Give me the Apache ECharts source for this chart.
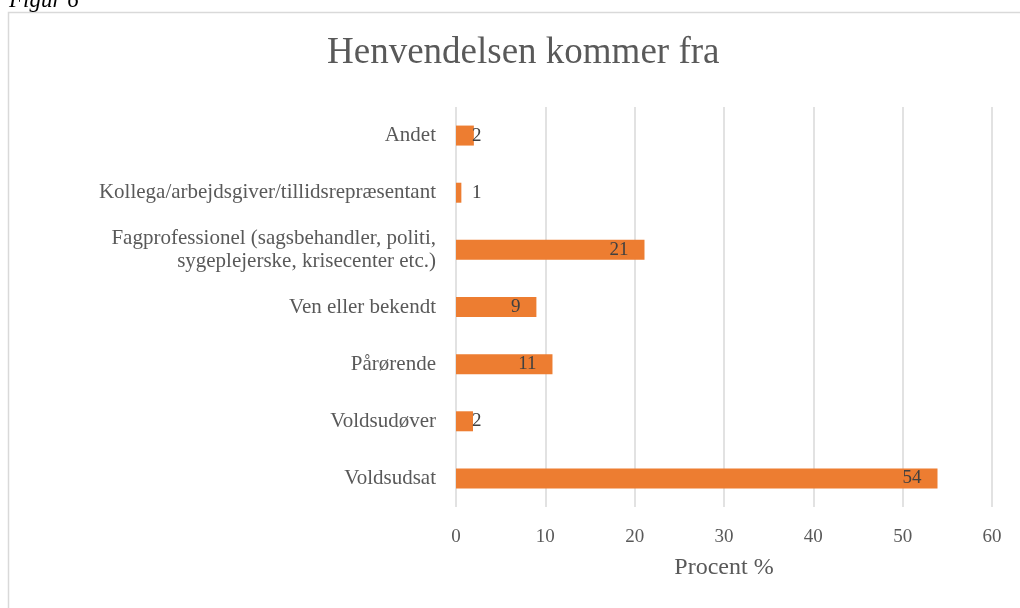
<!DOCTYPE html>
<html lang="da">
<head>
    <meta charset="utf-8">
    <title>Henvendelsen kommer fra</title>
    <script src="https://cdn.jsdelivr.net/npm/echarts@6/dist/echarts.min.js"></script>
    <style>
        html, body { margin: 0; padding: 0; background: #fff; }
        #chart { width: 1020px; height: 608px; }
    </style>
</head>
<body>
<div id="chart"></div>
<script>
    // kategorier (nederst -> øverst)
    const categories = [
        'Voldsudsat',
        'Voldsudøver',
        'Pårørende',
        'Ven eller bekendt',
        'Fagprofessionel (sagsbehandler, politi,\nsygeplejerske, krisecenter etc.)',
        'Kollega/arbejdsgiver/tillidsrepræsentant',
        'Andet'
    ];
    const values = [53.9, 1.9, 10.8, 9.0, 21.1, 0.6, 2.0];
    const xTicks = [0, 10, 20, 30, 40, 50, 60];

    const FONT = '"Liberation Serif", "DejaVu Serif", serif';
    const TXT = '#595959';

    const chart = echarts.init(document.getElementById('chart'));

    const option = {
        backgroundColor: '#fff',
        textStyle: { fontFamily: FONT },
        title: {
            text: 'Henvendelsen kommer fra',
            left: 322,
            top: 30,
            textStyle: { fontFamily: FONT, fontSize: 37, fontWeight: 'normal', color: TXT }
        },
        graphic: [
            {
                type: 'rect',
                shape: { x: 8.5, y: 12.5, width: 1030, height: 620 },
                style: { fill: null, stroke: '#d9d9d9', lineWidth: 1.5 }
            },
            {
                type: 'text',
                left: 9,
                top: -11,
                style: { text: 'Figur 6', font: 'italic 23px ' + FONT, fill: '#000' }
            }
        ],
        grid: { left: 456, right: 28, top: 107, bottom: 101 },
        xAxis: {
            type: 'value',
            min: xTicks[0],
            max: xTicks[xTicks.length - 1],
            interval: 10,
            name: 'Procent %',
            nameLocation: 'middle',
            nameGap: 49,
            nameTextStyle: { fontFamily: FONT, fontSize: 24, color: TXT },
            axisLine: { show: false },
            axisTick: { show: false },
            axisLabel: { fontFamily: FONT, fontSize: 19, color: TXT, margin: 21 },
            splitLine: { lineStyle: { color: '#d9d9d9', width: 1.5 } }
        },
        yAxis: {
            type: 'category',
            data: categories,
            axisLine: { show: false },
            axisTick: { show: false },
            axisLabel: { fontFamily: FONT, fontSize: 21, color: TXT, margin: 20, lineHeight: 23 }
        },
        series: [{
            type: 'bar',
            data: values.map(v => ({
                value: v,
                label: v < 5
                    ? { position: 'insideLeft', distance: 16 }
                    : { position: 'insideRight', distance: 16 }
            })),
            barWidth: 20,
            itemStyle: { color: '#ED7D31' },
            label: {
                show: true,
                fontFamily: FONT,
                fontSize: 19,
                color: '#404040',
                formatter: p => Math.round(p.value) || 1
            }
        }]
    };

    chart.setOption(option);
</script>
</body>
</html>
